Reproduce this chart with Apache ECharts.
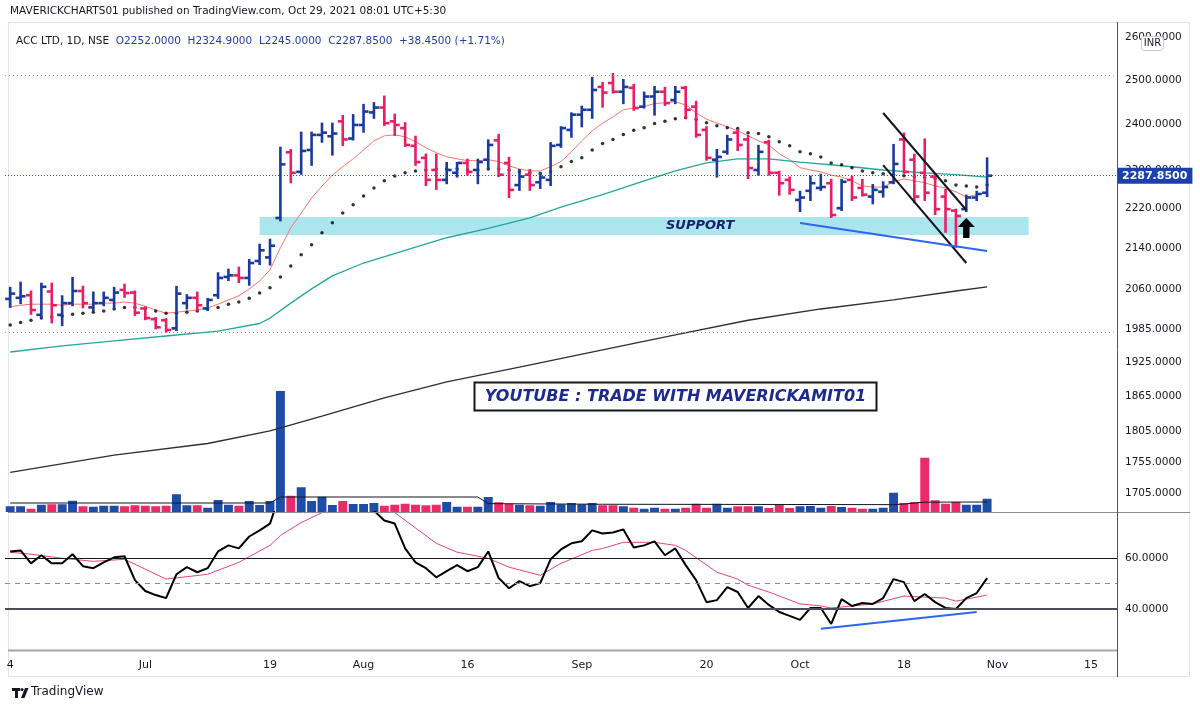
<!DOCTYPE html>
<html>
<head>
<meta charset="utf-8">
<title>ACC LTD, 1D, NSE</title>
<script src="https://cdn.jsdelivr.net/npm/echarts@6/dist/echarts.min.js"></script>
<style>
  html, body { margin: 0; padding: 0; background: #ffffff; }
  #chart { width: 1200px; height: 712px; }
</style>
</head>
<body>
<div id="chart"></div>
<script>
// trading days (NSE 2021), plus a few future sessions for the empty right side
const junDays = [14, 15, 16, 17, 18, 21, 22, 23, 24, 25, 28, 29, 30];
const julDays = [1, 2, 5, 6, 7, 8, 9, 12, 13, 14, 15, 16, 19, 20, 22, 23, 26, 27, 28, 29, 30];
const augDays = [2, 3, 4, 5, 6, 9, 10, 11, 12, 13, 16, 17, 18, 20, 23, 24, 25, 26, 27, 30, 31];
const sepDays = [1, 2, 3, 6, 7, 8, 9, 13, 14, 15, 16, 17, 20, 21, 22, 23, 24, 27, 28, 29, 30];
const octDays = [1, 4, 5, 6, 7, 8, 11, 12, 13, 14, 18, 19, 20, 21, 22, 25, 26, 27, 28];
const novDays = [1, 2, 3, 4, 8, 9, 10, 11, 12, 15, 16, 17];

const tickDates = ['2021-06-14', '2021-07-01', '2021-07-19', '2021-08-02', '2021-08-16', '2021-09-01',
  '2021-09-20', '2021-10-01', '2021-10-18', '2021-11-01', '2021-11-15'];
const tickLabels = ['4', 'Jul', '19', 'Aug', '16', 'Sep', '20', 'Oct', '18', 'Nov', '15'];

const priceTicks = [2600, 2500, 2400, 2300, 2220, 2140, 2060, 1985, 1925, 1865, 1805, 1755, 1705];
const rsiTicks = [60, 40];

const open = [2041, 2043, 2048, 2011, 2055, 2011, 2033, 2056, 2025, 2033,
  2039, 2058, 2053, 2023, 2003, 2001, 1986, 2033, 2043, 2023,
  2048, 2083, 2086, 2081, 2114, 2121, 2200, 2338, 2296, 2343,
  2376, 2373, 2406, 2368, 2398, 2426, 2437, 2406, 2391, 2352,
  2326, 2300, 2279, 2294, 2315, 2300, 2322, 2364, 2315, 2268,
  2290, 2274, 2279, 2354, 2387, 2421, 2432, 2484, 2493, 2473,
  2482, 2439, 2462, 2473, 2454, 2482, 2439, 2387, 2322, 2339,
  2381, 2366, 2300, 2360, 2294, 2279, 2237, 2256, 2262, 2272,
  2220, 2279, 2262, 2244, 2254, 2274, 2366, 2322, 2294, 2286,
  2244, 2215, 2218, 2242, 2252];
const high = [2062, 2072, 2055, 2070, 2070, 2046, 2081, 2064, 2053, 2053,
  2062, 2068, 2055, 2025, 2005, 2003, 2064, 2048, 2053, 2041,
  2090, 2097, 2101, 2116, 2146, 2156, 2348, 2343, 2381, 2381,
  2401, 2401, 2418, 2420, 2443, 2447, 2462, 2421, 2402, 2372,
  2333, 2333, 2315, 2315, 2322, 2322, 2364, 2376, 2326, 2300,
  2300, 2294, 2358, 2393, 2424, 2439, 2505, 2493, 2514, 2500,
  2489, 2471, 2484, 2482, 2484, 2484, 2450, 2393, 2343, 2374,
  2387, 2374, 2352, 2363, 2296, 2284, 2254, 2286, 2290, 2279,
  2279, 2286, 2279, 2268, 2274, 2354, 2379, 2333, 2366, 2290,
  2258, 2217, 2246, 2254, 2324.9];
const low = [2026, 2033, 2013, 2007, 1997, 1992, 2029, 2025, 2020, 2029,
  2023, 2045, 2011, 2003, 1986, 1980, 1983, 2023, 2020, 2020,
  2043, 2077, 2073, 2068, 2108, 2107, 2195, 2274, 2292, 2311,
  2361, 2333, 2354, 2366, 2383, 2414, 2398, 2376, 2352, 2311,
  2268, 2260, 2272, 2286, 2290, 2272, 2304, 2287, 2243, 2258,
  2258, 2262, 2268, 2350, 2372, 2395, 2414, 2439, 2471, 2447,
  2432, 2437, 2421, 2443, 2447, 2414, 2372, 2322, 2286, 2335,
  2343, 2283, 2290, 2290, 2248, 2250, 2214, 2237, 2258, 2202,
  2216, 2237, 2246, 2230, 2244, 2272, 2294, 2232, 2237, 2208,
  2172, 2142, 2214, 2237, 2245];
const close = [2051, 2046, 2020, 2064, 2029, 2033, 2056, 2033, 2033, 2043,
  2053, 2052, 2015, 2005, 1988, 1983, 2051, 2043, 2029, 2039,
  2081, 2086, 2081, 2110, 2135, 2144, 2312, 2294, 2341, 2376,
  2381, 2379, 2366, 2398, 2428, 2437, 2402, 2398, 2354, 2317,
  2279, 2279, 2300, 2315, 2296, 2317, 2354, 2290, 2258, 2286,
  2268, 2284, 2352, 2391, 2421, 2432, 2477, 2471, 2473, 2484,
  2436, 2462, 2473, 2447, 2473, 2432, 2376, 2326, 2328, 2366,
  2354, 2304, 2339, 2294, 2272, 2258, 2242, 2272, 2264, 2206,
  2275, 2242, 2248, 2258, 2264, 2313, 2296, 2244, 2252, 2218,
  2218, 2204, 2242, 2249.4, 2287.85];

// volume, lakh shares
const volume = [4.6, 4.6, 2.6, 5.8, 6.2, 6.2, 9.0, 4.6, 4.2, 5.0,
  5.0, 4.6, 5.4, 5.0, 4.6, 5.0, 14.2, 5.4, 5.4, 3.4,
  9.6, 5.8, 5.0, 8.8, 5.6, 8.8, 96.8, 13.0, 19.8, 8.8,
  12.2, 5.6, 8.8, 6.4, 6.4, 7.2, 5.0, 5.8, 6.6, 5.8,
  5.4, 5.8, 8.0, 4.2, 4.2, 4.2, 12.0, 7.8, 6.6, 5.8,
  5.4, 5.0, 8.0, 6.2, 7.2, 6.2, 7.2, 5.4, 5.4, 4.6,
  3.4, 2.6, 3.4, 2.6, 2.6, 3.4, 6.6, 3.4, 6.6, 3.4,
  4.6, 4.6, 4.6, 3.2, 5.8, 3.2, 4.6, 4.8, 3.4, 4.8,
  4.0, 3.4, 2.6, 2.6, 3.4, 15.4, 7.2, 8.0, 43.4, 9.4,
  6.6, 8.0, 5.8, 5.8, 10.6];
const volumeMa = [[0, 7.2], [25, 7.2], [26, 12.0], [45, 12.0], [46, 6.7], [57, 6.2], [85, 5.9],
  [86, 6.4], [88, 7.9], [94, 8.0]];

// moving averages
const emaFast = [2026, 2029, 2031, 2031, 2031, 2029, 2031, 2031, 2031, 2033,
  2033, 2035, 2033, 2027, 2020, 2014, 2016, 2018, 2020, 2024,
  2031, 2039, 2047, 2060, 2075, 2097, 2140, 2180, 2210, 2241,
  2266, 2289, 2307, 2324, 2343, 2363, 2374, 2376, 2372, 2361,
  2348, 2337, 2328, 2324, 2320, 2320, 2322, 2318, 2309, 2302,
  2298, 2298, 2307, 2318, 2339, 2363, 2385, 2402, 2416, 2432,
  2436, 2439, 2446, 2448, 2450, 2443, 2425, 2411, 2402, 2394,
  2385, 2374, 2363, 2354, 2335, 2322, 2305, 2300, 2296, 2289,
  2285, 2277, 2266, 2264, 2264, 2275, 2281, 2277, 2273, 2266,
  2262, 2254, 2243, 2248, 2252];
const emaDots = [1992, 1997, 2001, 2005, 2007, 2009, 2012, 2014, 2016, 2018,
  2022, 2025, 2025, 2023, 2018, 2014, 2014, 2016, 2018, 2022,
  2025, 2031, 2035, 2042, 2052, 2062, 2083, 2104, 2126, 2146,
  2170, 2190, 2210, 2227, 2245, 2262, 2277, 2287, 2294, 2298,
  2300, 2302, 2302, 2302, 2300, 2300, 2302, 2302, 2300, 2296,
  2294, 2292, 2296, 2307, 2318, 2326, 2343, 2357, 2366, 2377,
  2386, 2392, 2401, 2406, 2412, 2414, 2410, 2403, 2396, 2392,
  2390, 2381, 2379, 2372, 2361, 2352, 2339, 2335, 2328, 2315,
  2311, 2305, 2298, 2294, 2292, 2290, 2288, 2286, 2284, 2282,
  2277, 2268, 2266, 2264, 2268];
const ma50 = [[0, 1943], [5, 1954], [10, 1963], [15, 1972], [20, 1981], [24, 1995], [25, 2005],
  [27, 2033], [29, 2060], [31, 2085], [34, 2110], [38, 2135], [42, 2160], [46, 2179], [50, 2200],
  [53, 2222], [57, 2248], [61, 2277], [64, 2298], [67, 2315], [70, 2324], [73, 2324], [76, 2317],
  [80, 2309], [84, 2300], [88, 2294], [91, 2290], [94, 2285]];
const ma200 = [[0, 1738], [10, 1766], [19, 1785], [25, 1806], [30, 1831], [36, 1862], [42, 1890],
  [49, 1916], [57, 1947], [64, 1974], [71, 2001], [78, 2022], [85, 2039], [91, 2056], [94, 2064]];

const rsi = [62.7, 63.1, 58.0, 61.2, 58.0, 58.0, 61.6, 56.9, 56.1, 58.4,
  60.4, 60.8, 51.4, 47.1, 45.5, 44.3, 53.7, 56.5, 54.5, 56.1,
  62.7, 65.1, 63.9, 68.6, 71.0, 73.7, 86.0, 83.0, 86.0, 84.0,
  85.0, 84.0, 80.0, 81.0, 83.0, 78.8, 74.9, 73.7, 63.9, 58.4,
  56.1, 52.5, 54.9, 57.3, 54.9, 56.5, 62.7, 52.2, 48.2, 51.0,
  49.0, 50.2, 59.6, 63.5, 65.9, 66.7, 71.0, 69.8, 70.2, 71.4,
  64.3, 65.1, 66.7, 61.2, 63.9, 57.3, 51.4, 42.7, 43.5, 48.6,
  46.7, 40.4, 45.1, 41.6, 38.8, 37.3, 35.7, 40.4, 40.4, 34.1,
  43.9, 41.2, 42.4, 42.0, 44.3, 51.8, 50.6, 43.1, 45.9, 42.7,
  40.4, 40.0, 44.3, 46.3, 52.2];
const rsiSignal = [[0, 62.4], [2, 61.6], [5, 60.0], [8, 58.8], [11, 59.6], [15, 51.8], [19, 53.7],
  [22, 58.4], [25, 65.1], [26, 69.0], [28, 74.1], [30, 78.0], [32, 80.5], [35, 80.4], [37, 78.0],
  [41, 65.9], [43, 62.4], [46, 60.0], [48, 56.5], [51, 53.3], [53, 58.0], [56, 63.1], [57, 63.9],
  [59, 66.3], [62, 66.3], [64, 65.1], [65, 63.1], [68, 54.5], [70, 51.8], [71, 49.4], [73, 46.7],
  [76, 42.0], [78, 41.2], [79, 40.4], [80, 40.8], [83, 42.0], [86, 45.1], [88, 44.7], [90, 44.3],
  [91, 43.1], [92, 43.9], [94, 45.5]];

// drawings on the chart: [index, price]
const supportZone = [[24, 2201.9], [98, 2165.5]];
const channelUpper = [[84, 2424.7], [92, 2216.3]];
const channelLower = [[84, 2310.6], [92, 2110.0]];
const priceTrend = [[76, 2189.7], [94, 2133.6]];
const rsiTrend = [[78, 32.2], [93, 38.8]];
const arrowAt = [92, 2179.6];
const hLines = [2511.6, 1979];

const UP = '#1a3a9e';
const DOWN = '#e91e63';
const TEXT = '#131722';
const FONT = "'DejaVu Sans', sans-serif";

const dates = [];
[[6, junDays], [7, julDays], [8, augDays], [9, sepDays], [10, octDays], [11, novDays]].forEach(([m, days]) => {
  days.forEach(d => dates.push('2021-' + String(m).padStart(2, '0') + '-' + String(d).padStart(2, '0')));
});

const ohlc = open.map((o, i) => [i, o, high[i], low[i], close[i]]);
const last = close.length - 1;
const chg = close[last] - close[last - 1];
const chgPct = chg / close[last - 1] * 100;

function renderBar(params, api) {
  const i = api.value(0);
  const o = api.coord([i, api.value(1)]);
  const h = api.coord([i, api.value(2)]);
  const l = api.coord([i, api.value(3)]);
  const c = api.coord([i, api.value(4)]);
  const color = api.value(4) >= api.value(1) ? UP : DOWN;
  const st = () => ({ stroke: color, lineWidth: 2.6 });
  return {
    type: 'group',
    children: [
      { type: 'line', shape: { x1: h[0], y1: h[1] - 1, x2: l[0], y2: l[1] + 1 }, style: st() },
      { type: 'line', shape: { x1: o[0] - 5, y1: o[1], x2: o[0], y2: o[1] }, style: st() },
      { type: 'line', shape: { x1: c[0], y1: c[1], x2: c[0] + 5, y2: c[1] }, style: st() }
    ]
  };
}

const seg = (pts, color, width) => [
  { coord: pts[0], lineStyle: { color: color, width: width, type: 'solid' } },
  { coord: pts[1] }
];

const hiddenX = i => ({
  type: 'category', gridIndex: i, data: dates, show: false, boundaryGap: true
});

const chart = echarts.init(document.getElementById('chart'));

chart.setOption({
  animation: false,
  backgroundColor: '#ffffff',
  textStyle: { fontFamily: FONT },
  grid: [
    { left: 5, right: 83, top: 22, bottom: 200 },
    { left: 5, right: 83, top: 380, bottom: 200 },
    { left: 5, right: 83, top: 512, bottom: 62 }
  ],
  xAxis: [
    hiddenX(0),
    hiddenX(1),
    {
      type: 'category', gridIndex: 2, data: dates, boundaryGap: true,
      axisLine: { show: false }, axisTick: { show: false }, splitLine: { show: false },
      axisLabel: {
        interval: (i, v) => tickDates.indexOf(v) >= 0,
        formatter: v => tickLabels[tickDates.indexOf(v)],
        color: TEXT, fontSize: 11, margin: 10, fontFamily: FONT
      }
    }
  ],
  yAxis: [
    { type: 'log', gridIndex: 0, position: 'right', min: 1675.2, max: 2638.1, show: false },
    { type: 'value', gridIndex: 1, min: 0, max: 105.6, show: false },
    { type: 'value', gridIndex: 2, min: 23.83, max: 78.26, show: false }
  ],
  series: [
    {
      name: 'ACC', type: 'custom', xAxisIndex: 0, yAxisIndex: 0, z: 4,
      dimensions: ['idx', 'open', 'high', 'low', 'close'],
      encode: { x: 0, y: [1, 2, 3, 4] },
      data: ohlc, renderItem: renderBar, clip: true
    },
    {
      name: 'EMA fast', type: 'line', xAxisIndex: 0, yAxisIndex: 0, z: 3, clip: false,
      data: emaFast, symbol: 'none', lineStyle: { color: '#f4776c', width: 1 },
      markArea: {
        silent: true,
        itemStyle: { color: '#abe6ee' },
        label: {
          show: true, position: 'inside', offset: [56, 0], formatter: 'SUPPORT',
          color: '#18216e', fontStyle: 'italic', fontWeight: 'bold', fontSize: 13, fontFamily: FONT
        },
        data: [[{ coord: supportZone[0] }, { coord: supportZone[1] }]]
      },
      markLine: {
        silent: true, symbol: 'none', z: 10,
        label: { show: false },
        data: [
          seg(channelUpper, '#131722', 2),
          seg(channelLower, '#131722', 2),
          seg(priceTrend, '#2f66f0', 2),
          { yAxis: hLines[0], lineStyle: { color: '#9598a1', type: [1, 3], width: 1 } },
          { yAxis: hLines[1], lineStyle: { color: '#9598a1', type: [1, 3], width: 1 } },
          {
            yAxis: close[last], lineStyle: { color: '#2a4fd6', type: [1, 2], width: 1 },
            label: {
              show: true, position: 'end', distance: 0,
              formatter: close[last].toFixed(4),
              backgroundColor: '#1c3fae', color: '#ffffff', padding: [3, 5, 2, 5],
              fontSize: 11, fontWeight: 'bold', fontFamily: FONT
            }
          }
        ]
      },
      markPoint: {
        silent: true,
        label: { show: false },
        data: [{
          coord: arrowAt,
          symbol: 'path://M8,0 L16,9 L11,9 L11,20 L5,20 L5,9 L0,9 Z',
          symbolSize: [17, 20],
          itemStyle: { color: '#000000' }
        }]
      }
    },
    {
      name: 'EMA dots', type: 'scatter', xAxisIndex: 0, yAxisIndex: 0, z: 3,
      data: emaDots.map((v, i) => [i, v]), symbolSize: 3.5,
      itemStyle: { color: '#000000' }
    },
    {
      name: 'MA 50', type: 'line', xAxisIndex: 0, yAxisIndex: 0, z: 3,
      data: ma50, symbol: 'none', lineStyle: { color: '#26a69a', width: 1.3 }
    },
    {
      name: 'MA 200', type: 'line', xAxisIndex: 0, yAxisIndex: 0, z: 3, clip: false,
      data: ma200, symbol: 'none', lineStyle: { color: '#2a2e39', width: 1.3 },
      markLine: {
        silent: true, symbol: 'none', z: 6,
        lineStyle: { color: 'rgba(0,0,0,0)', width: 1, type: 'solid' },
        label: {
          show: true, position: 'end', distance: 8,
          formatter: p => Number(p.value).toFixed(4),
          color: TEXT, fontSize: 10.5, fontFamily: FONT
        },
        data: priceTicks.map(v => ({ yAxis: v }))
      }
    },
    {
      name: 'Volume', type: 'bar', xAxisIndex: 1, yAxisIndex: 1, z: 2, barWidth: '86%',
      data: volume.map((v, i) => ({
        value: v,
        itemStyle: { color: close[i] >= open[i] ? '#1f4da6' : '#eb2a69' }
      }))
    },
    {
      name: 'Volume MA', type: 'line', xAxisIndex: 1, yAxisIndex: 1, z: 3,
      data: volumeMa, symbol: 'none', lineStyle: { color: '#131722', width: 1 }
    },
    {
      name: 'RSI', type: 'line', xAxisIndex: 2, yAxisIndex: 2, z: 4, clip: true,
      data: rsi, symbol: 'none', lineStyle: { color: '#000000', width: 2 }
    },
    {
      name: 'RSI signal', type: 'line', xAxisIndex: 2, yAxisIndex: 2, z: 3, clip: true,
      data: rsiSignal, symbol: 'none', lineStyle: { color: '#e0457b', width: 1 }
    },
    {
      name: 'RSI levels', type: 'line', xAxisIndex: 2, yAxisIndex: 2, z: 2, clip: false,
      data: [],
      markLine: {
        silent: true, symbol: 'none',
        label: {
          show: true, position: 'end', distance: 8,
          formatter: p => Number(p.value).toFixed(4),
          color: TEXT, fontSize: 10.5, fontFamily: FONT
        },
        data: [
          { yAxis: rsiTicks[0], lineStyle: { color: '#131722', width: 1, type: 'solid' } },
          { yAxis: 50, lineStyle: { color: '#8a8d96', width: 1, type: [5, 5] }, label: { show: false } },
          { yAxis: rsiTicks[1], lineStyle: { color: '#4a4d57', width: 2, type: 'solid' } },
          [
            { coord: rsiTrend[0], lineStyle: { color: '#2f66f0', width: 2, type: 'solid' }, label: { show: false } },
            { coord: rsiTrend[1] }
          ]
        ]
      }
    }
  ],
  graphic: [
    { type: 'rect', z: 0, silent: true, shape: { x: 8.5, y: 22.5, width: 1181, height: 654 },
      style: { fill: 'none', stroke: '#e0e3eb', lineWidth: 1 } },
    { type: 'line', z: 20, silent: true, shape: { x1: 8, y1: 512.5, x2: 1190, y2: 512.5 },
      style: { stroke: '#8a8d96', lineWidth: 1 } },
    { type: 'line', z: 20, silent: true, shape: { x1: 8, y1: 650.5, x2: 1117, y2: 650.5 },
      style: { stroke: '#a3a6af', lineWidth: 2 } },
    { type: 'line', z: 20, silent: true, shape: { x1: 1117.5, y1: 22, x2: 1117.5, y2: 677 },
      style: { stroke: '#50535e', lineWidth: 1 } },
    { type: 'text', z: 20, silent: true, x: 10, y: 6,
      style: { text: 'MAVERICKCHARTS01 published on TradingView.com, Oct 29, 2021 08:01 UTC+5:30',
        fill: TEXT, font: '10.5px ' + FONT } },
    { type: 'text', z: 20, silent: true, x: 16, y: 35,
      style: {
        text: '{a|ACC LTD, 1D, NSE}  {b|O' + open[last].toFixed(4) + '}  {b|H' + high[last].toFixed(4) +
          '}  {b|L' + low[last].toFixed(4) + '}  {b|C' + close[last].toFixed(4) + '}  {b|+' + chg.toFixed(4) +
          ' (+' + chgPct.toFixed(2) + '%)}',
        rich: {
          a: { fill: TEXT, font: '10.5px ' + FONT },
          b: { fill: '#1f3fa8', font: '10.5px ' + FONT }
        }
      } },
    { type: 'rect', z: 30, silent: true, shape: { x: 1141.5, y: 36.5, width: 22, height: 14, r: 3 },
      style: { fill: '#ffffff', stroke: '#c8cbd3', lineWidth: 1 } },
    { type: 'text', z: 31, silent: true, x: 1152.5, y: 43.5,
      style: { text: 'INR', fill: TEXT, font: '10px ' + FONT, align: 'center', verticalAlign: 'middle' } },
    { type: 'rect', z: 30, silent: true, shape: { x: 474.5, y: 382.5, width: 402, height: 28 },
      style: { fill: '#ffffff', stroke: '#131722', lineWidth: 2 } },
    { type: 'text', z: 31, silent: true, x: 675.5, y: 397,
      style: { text: 'YOUTUBE : TRADE WITH MAVERICKAMIT01', fill: '#1c2a8e',
        font: 'italic bold 16px ' + FONT, align: 'center', verticalAlign: 'middle' } },
    { type: 'rect', z: 20, silent: true, shape: { x: 12, y: 688, width: 8, height: 3 }, style: { fill: TEXT } },
    { type: 'rect', z: 20, silent: true, shape: { x: 15, y: 688, width: 3, height: 10 }, style: { fill: TEXT } },
    { type: 'circle', z: 20, silent: true, shape: { cx: 22, cy: 689.5, r: 1.6 }, style: { fill: TEXT } },
    { type: 'polygon', z: 20, silent: true, shape: { points: [[21, 698], [25, 688], [28.5, 688], [24.5, 698]] },
      style: { fill: TEXT } },
    { type: 'text', z: 20, silent: true, x: 31, y: 686,
      style: { text: 'TradingView', fill: TEXT, font: '12px ' + FONT } }
  ]
});

window.addEventListener('resize', () => chart.resize());
</script>
</body>
</html>
